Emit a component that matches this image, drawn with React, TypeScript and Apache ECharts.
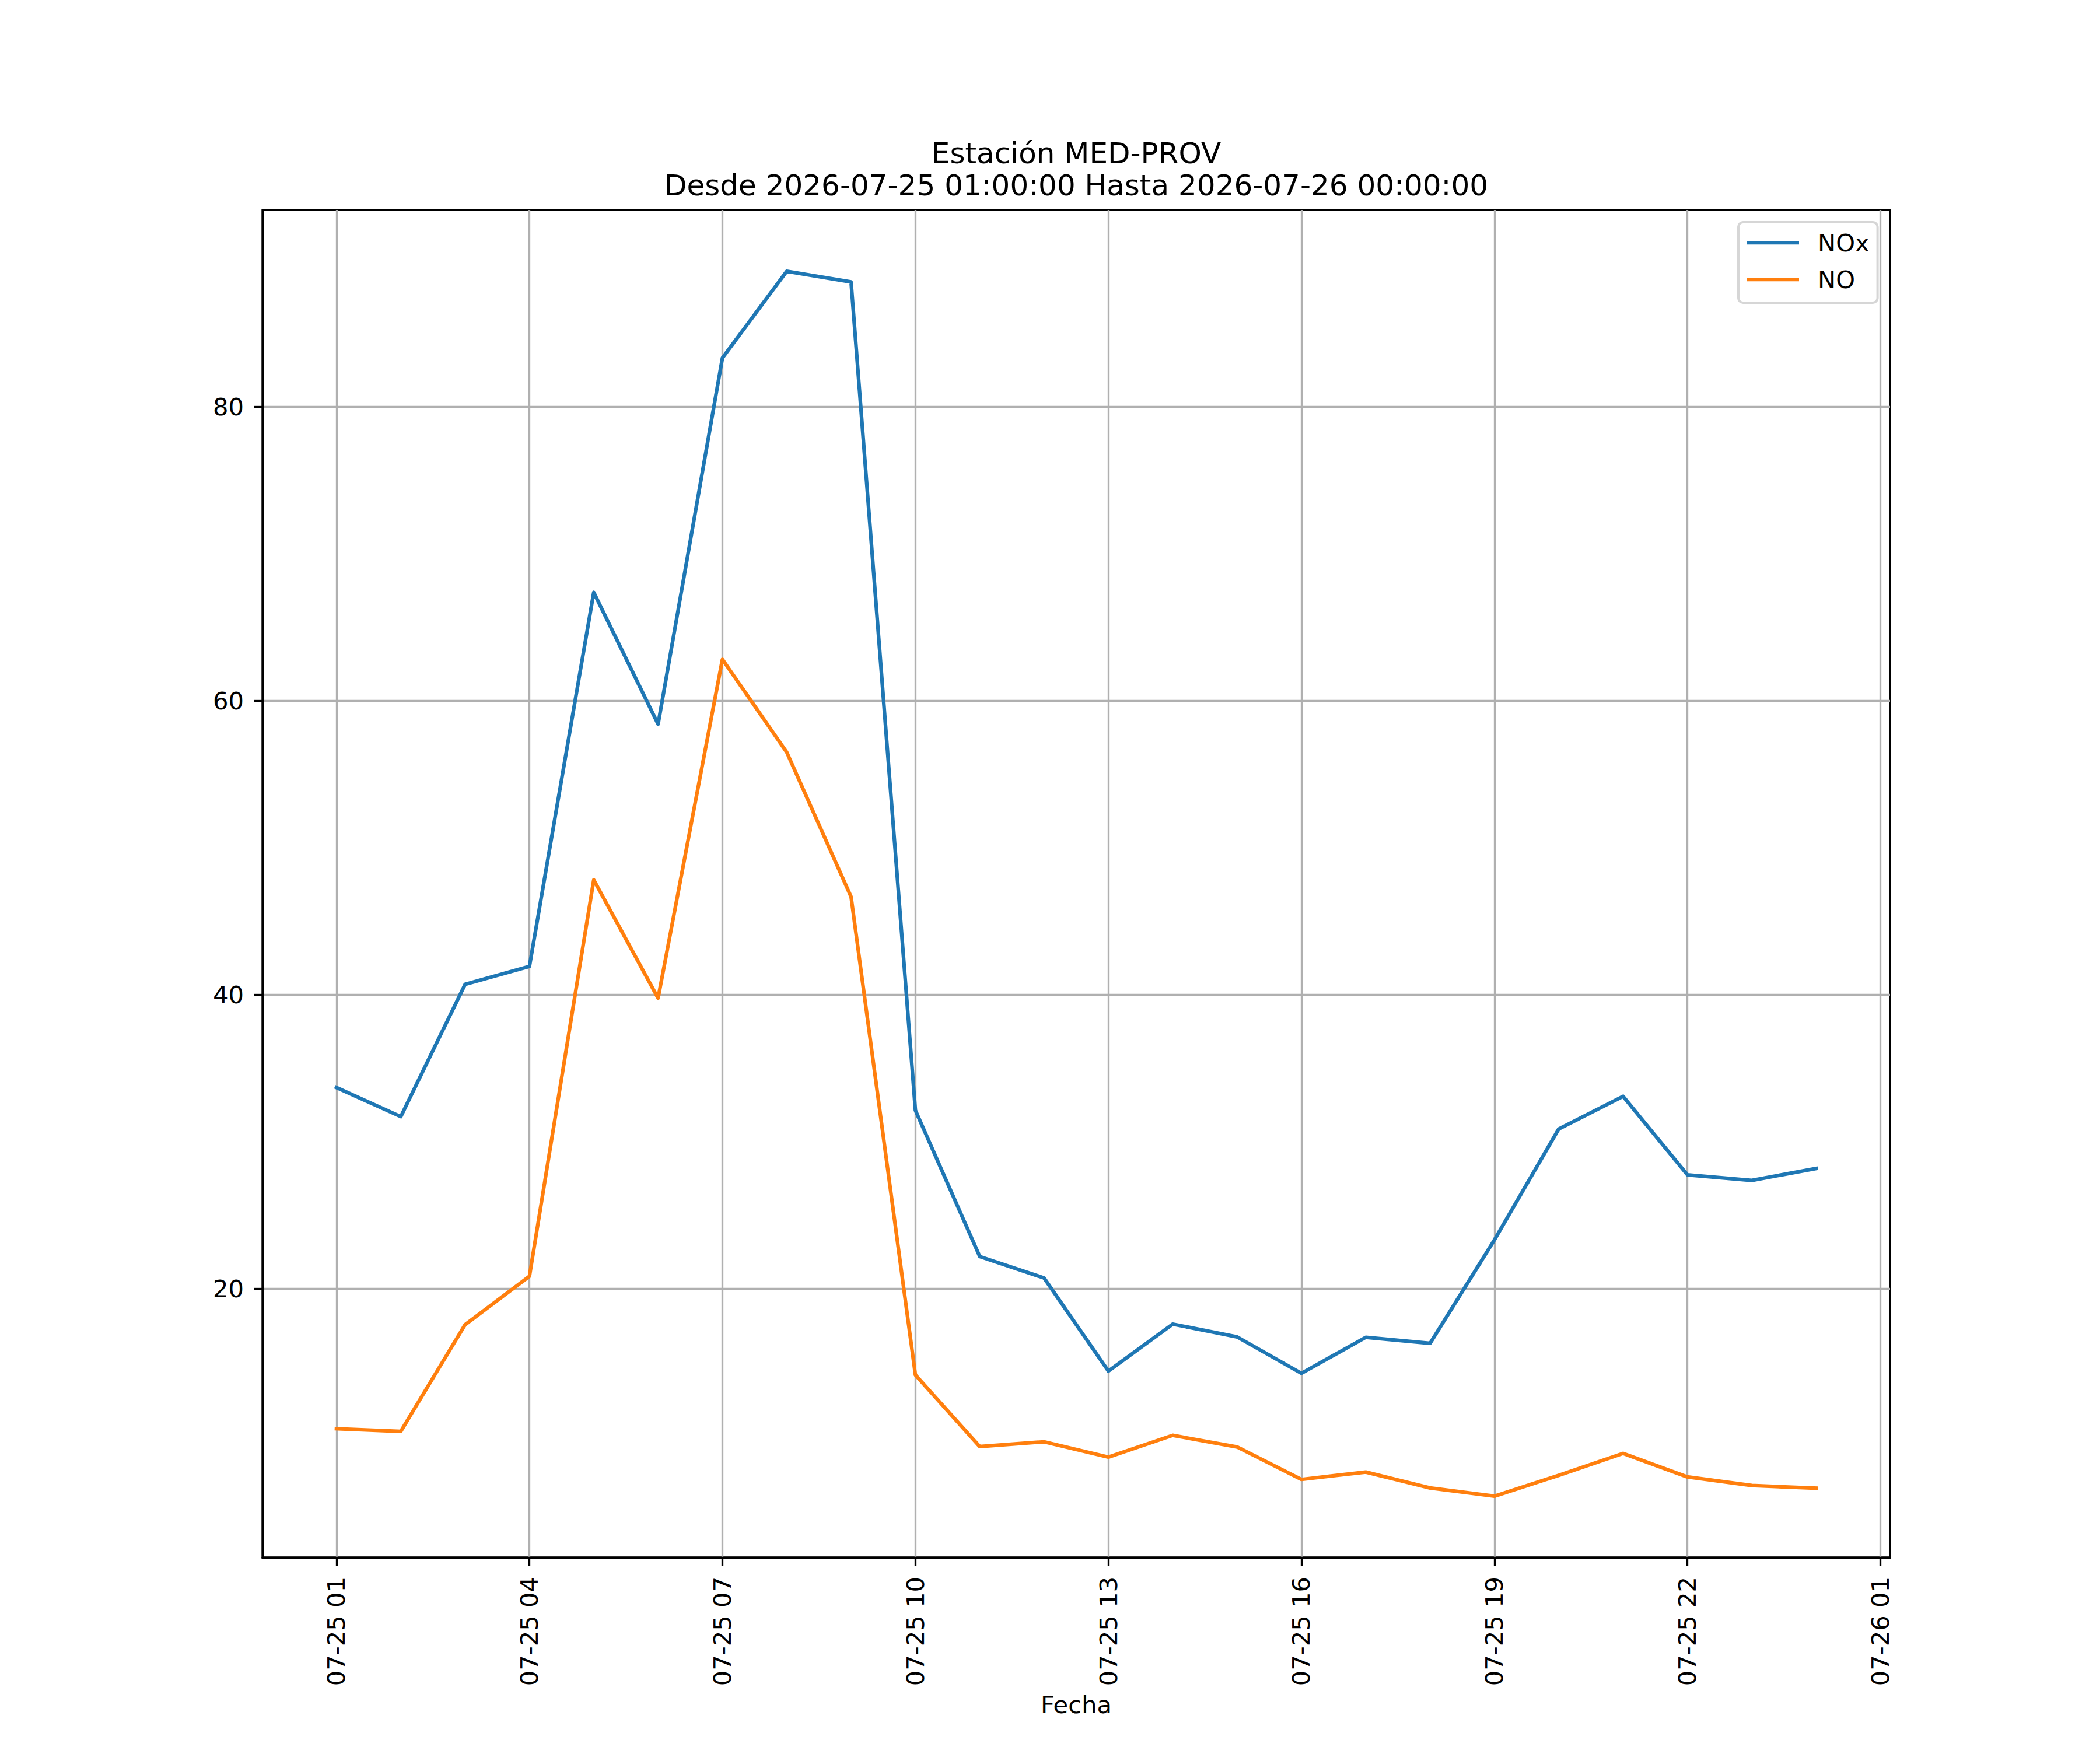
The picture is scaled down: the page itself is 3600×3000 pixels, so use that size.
import React, { useEffect, useRef } from "react";
import * as echarts from "echarts";

// Hours of 2026-07-25 (24 = 2026-07-26 00:00)
const hours = [1, 2, 3, 4, 5, 6, 7, 8, 9, 10, 11, 12, 13, 14, 15, 16, 17, 18, 19, 20, 21, 22, 23, 24];
const noxValues = [33.68, 31.7, 40.7, 41.92, 67.38, 58.41, 83.33, 89.23, 88.5, 32.13, 22.18, 20.72, 14.38, 17.58, 16.71, 14.23, 16.68, 16.27, 23.31, 30.86, 33.08, 27.74, 27.36, 28.17];
const noValues = [10.46, 10.28, 17.54, 20.83, 47.81, 39.76, 62.82, 56.5, 46.66, 14.12, 9.25, 9.57, 8.53, 10.01, 9.22, 7.01, 7.51, 6.43, 5.87, 7.29, 8.78, 7.18, 6.6, 6.41];
const xTickValues = [1, 4, 7, 10, 13, 16, 19, 22, 25];
const xTickLabels = ["07-25 01", "07-25 04", "07-25 07", "07-25 10", "07-25 13", "07-25 16", "07-25 19", "07-25 22", "07-26 01"];
const yTickValues = [20, 40, 60, 80];
const seriesNames = ["NOx", "NO"];
const titleLines = ["Estación MED-PROV", "Desde 2026-07-25 01:00:00 Hasta 2026-07-26 00:00:00"];
const xAxisTitle = "Fecha";

const FONT = "DejaVu Sans";
const FS = 41.67;
const LW = 3.33;

export default function App() {
  const ref = useRef<HTMLDivElement>(null);
  useEffect(() => {
    if (!ref.current) return;
    const chart = echarts.init(ref.current, undefined, { renderer: "svg" });
    const axisCommon = {
      axisLine: { show: true, onZero: false, lineStyle: { color: "#000", width: LW } },
      splitLine: { show: true, lineStyle: { color: "#b0b0b0", width: LW } },
    };
    chart.setOption({
      animation: false,
      backgroundColor: "#ffffff",
      textStyle: { fontFamily: FONT },
      grid: {
        left: 450,
        top: 360,
        width: 2790,
        height: 2310,
        show: true,
        borderColor: "#000",
        borderWidth: LW,
        backgroundColor: "transparent",
      },
      xAxis: {
        type: "value",
        min: -0.15,
        max: 25.15,
        ...axisCommon,
        axisTick: {
          show: true,
          inside: false,
          length: 14.6,
          customValues: xTickValues,
          lineStyle: { color: "#000", width: LW },
        },
        axisLabel: {
          customValues: xTickValues,
          rotate: 90,
          margin: 33,
          fontSize: FS,
          fontFamily: FONT,
          color: "#000",
          formatter: (v: number) => {
            const i = xTickValues.indexOf(Math.round(v));
            return i >= 0 ? xTickLabels[i] : "";
          },
        },
      },
      yAxis: {
        type: "value",
        min: 1.7,
        max: 93.4,
        ...axisCommon,
        axisTick: {
          show: true,
          inside: false,
          length: 14.6,
          customValues: yTickValues,
          lineStyle: { color: "#000", width: LW },
        },
        axisLabel: {
          customValues: yTickValues,
          margin: 32,
          fontSize: FS,
          fontFamily: FONT,
          color: "#000",
        },
      },
      legend: {
        orient: "vertical",
        left: 2980,
        top: 381,
        padding: [14, 14, 19, 14],
        itemGap: 21,
        itemWidth: 90,
        itemHeight: 6.25,
        icon: "rect",
        borderColor: "#d6d6d6",
        borderWidth: 4,
        borderRadius: 8,
        backgroundColor: "rgba(255,255,255,0.8)",
        textStyle: { fontSize: FS, fontFamily: FONT, color: "#000", lineHeight: 42, padding: [0, 0, 0, 27] },
        data: seriesNames,
      },
      series: [
        {
          type: "line",
          name: seriesNames[0],
          data: hours.map((h, i) => [h, noxValues[i]]),
          showSymbol: false,
          symbol: "none",
          itemStyle: { color: "#1f77b4" },
          lineStyle: { color: "#1f77b4", width: 6.25, cap: "square", join: "round" },
        },
        {
          type: "line",
          name: seriesNames[1],
          data: hours.map((h, i) => [h, noValues[i]]),
          showSymbol: false,
          symbol: "none",
          itemStyle: { color: "#ff7f0e" },
          lineStyle: { color: "#ff7f0e", width: 6.25, cap: "square", join: "round" },
        },
      ],
      graphic: [
        {
          type: "text",
          x: 1845,
          y: 263,
          style: { text: titleLines[0], fontSize: 50, fontFamily: FONT, fill: "#000", align: "center", verticalAlign: "middle" },
        },
        {
          type: "text",
          x: 1845,
          y: 318,
          style: { text: titleLines[1], fontSize: 50, fontFamily: FONT, fill: "#000", align: "center", verticalAlign: "middle" },
        },
        {
          type: "text",
          x: 1845,
          y: 2922,
          style: { text: xAxisTitle, fontSize: FS, fontFamily: FONT, fill: "#000", align: "center", verticalAlign: "middle" },
        },
      ],
    });
    return () => chart.dispose();
  }, []);
  return (
    <div
      ref={ref}
      style={{ position: "absolute", left: 0, top: 0, width: 3600, height: 3000, background: "#fff" }}
    />
  );
}
